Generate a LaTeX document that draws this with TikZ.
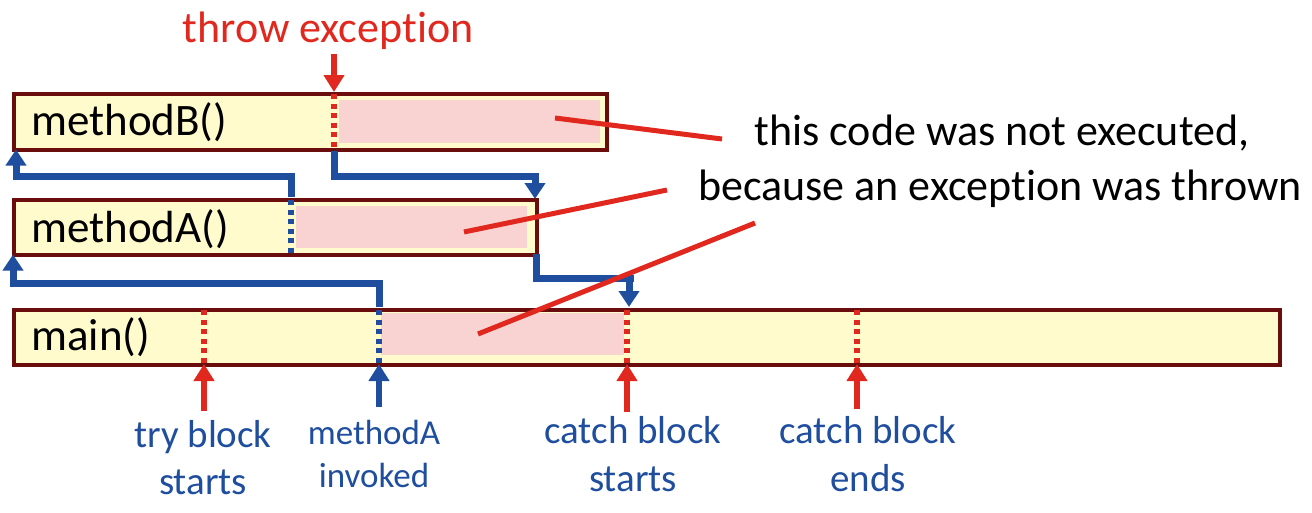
\documentclass[tikz,border=0pt]{standalone}
\usepackage{fontspec}
\setmainfont{Carlito}[Ligatures=NoCommon]
\usetikzlibrary{arrows.meta}
\definecolor{boxfill}{HTML}{FFFBCC}
\definecolor{boxline}{HTML}{6B0D0D}
\definecolor{pinkfill}{HTML}{F8D3D1}
\definecolor{flowblue}{HTML}{1F4E9E}
\definecolor{flowred}{HTML}{E0281E}
\newcommand{\nti}{t\kern0pt i}
\tikzset{
  box/.style={draw=boxline, line width=3.5pt, fill=boxfill, rectangle, inner sep=0pt, anchor=north west},
  pinkbox/.style={fill=pinkfill, draw=none, rectangle, inner sep=0pt, anchor=north west},
  boxlabel/.style={anchor=base west, inner sep=0pt, font=\fontsize{45}{54}\selectfont},
  bluepath/.style={draw=flowblue, line width=7pt, line join=miter},
  blueflow/.style={bluepath, -{Triangle[width=20pt,length=16pt]}},
  marker/.style={line width=6pt, dash pattern=on 5pt off 4.5pt},
  upred/.style={draw=flowred, line width=5.5pt, -{Triangle[width=20pt,length=17pt]}},
  upblue/.style={draw=flowblue, line width=5.5pt, -{Triangle[width=20pt,length=17pt]}},
  callout/.style={draw=flowred, line width=5pt},
  bottomlabel/.style={anchor=base, inner sep=0pt, text=flowblue, font=\fontsize{39}{47}\selectfont},
  smalllabel/.style={anchor=base, inner sep=0pt, text=flowblue, font=\fontsize{35}{42}\selectfont},
  bigtext/.style={anchor=base, inner sep=0pt, font=\fontsize{44}{53}\selectfont}
}
\begin{document}
\begin{tikzpicture}[x=1pt,y=-1pt]
\useasboundingbox (0,0) rectangle (1312,512);
% boxes
\node[box, minimum width=593pt, minimum height=56pt] (mB) at (12,92) {};
\node[box, minimum width=523pt, minimum height=55pt] (mA) at (12,198) {};
\node[box, minimum width=1266pt, minimum height=55pt] (mM) at (12,308) {};
% pink (not executed) regions
\node[pinkbox, minimum width=261pt, minimum height=43pt] (pB) at (339,100) {};
\node[pinkbox, minimum width=231pt, minimum height=42pt] (pA) at (296,206) {};
\node[pinkbox, minimum width=243pt, minimum height=42pt] (pM) at (381,313) {};
% labels in boxes
\node[boxlabel] (lB) at (31,135) {methodB()};
\node[boxlabel] (lA) at (31,242) {methodA()};
\node[boxlabel] (lM) at (31,350) {main()};
% named points
\coordinate (throwT) at (334,94);
\coordinate (throwB) at (334,148);
\coordinate (callAT) at (291,200);
\coordinate (callAB) at (291,253);
\coordinate (callMT) at (379,310);
\coordinate (callMB) at (379,363);
\coordinate (tryT) at (204,310);
\coordinate (tryB) at (204,363);
\coordinate (catchT) at (627,310);
\coordinate (catchB) at (627,363);
\coordinate (endT) at (857,310);
\coordinate (endB) at (857,363);
\coordinate (retA) at (535,199);
% dotted markers
\draw[marker, draw=flowred] (throwT) -- (throwB);
\draw[marker, draw=flowblue] (callAT) -- (callAB);
\draw[marker, draw=flowblue] (callMT) -- (callMB);
\draw[marker, draw=flowred] (tryT) -- (tryB);
\draw[marker, draw=flowred] (catchT) -- (catchB);
\draw[marker, draw=flowred] (endT) -- (endB);
% blue flow
\draw[blueflow] (291,197) -- (291,176) -- (16,176) -- (16,149.5);
\draw[blueflow] (334,151) -- (334,176) -- (535,176) -- (retA);
\draw[blueflow] (379,307) -- (379,283) -- (13,283) -- (13,254.5);
\draw[bluepath] (536,254) -- (536,278) -- (634,278);
\draw[blueflow] (629,278) -- (629,307);
% throw exception
\node[bigtext, text=flowred] (thr) at (328,42) {throw excep\nti on};
\coordinate (thrS) at (334,54);
\draw[upred] (thrS) -- (334,92);
% bottom arrows
\coordinate (a1) at (204,411);
\coordinate (a2) at (379,407);
\coordinate (a3) at (627,412);
\coordinate (a4) at (857,409);
\draw[upred] (a1) -- (204,364);
\draw[upblue] (a2) -- (379,364);
\draw[upred] (a3) -- (627,364);
\draw[upred] (a4) -- (857,364);
% bottom labels
\node[bottomlabel] (t1) at (203,447) {try block};
\node[bottomlabel] (t2) at (203,494) {starts};
\node[smalllabel] (m1) at (374,444) {methodA};
\node[smalllabel] (m2) at (374,487) {invoked};
\node[bottomlabel] (c1) at (633,443) {catch block};
\node[bottomlabel] (c2) at (633,491) {starts};
\node[bottomlabel] (e1) at (868,443) {catch block};
\node[bottomlabel] (e2) at (868,491) {ends};
% callout text
\node[bigtext] (n1) at (1002,145) {this code was not executed,};
\node[bigtext] (n2) at (1000,200) {because an excep\nti on was thrown};
% callout lines
\coordinate (k1) at (722,139);
\coordinate (k2) at (667,190);
\coordinate (k3) at (755,223);
\draw[callout] (555,118) -- (k1);
\draw[callout] (464,232) -- (k2);
\draw[callout] (478,334) -- (k3);
\end{tikzpicture}
\end{document}
